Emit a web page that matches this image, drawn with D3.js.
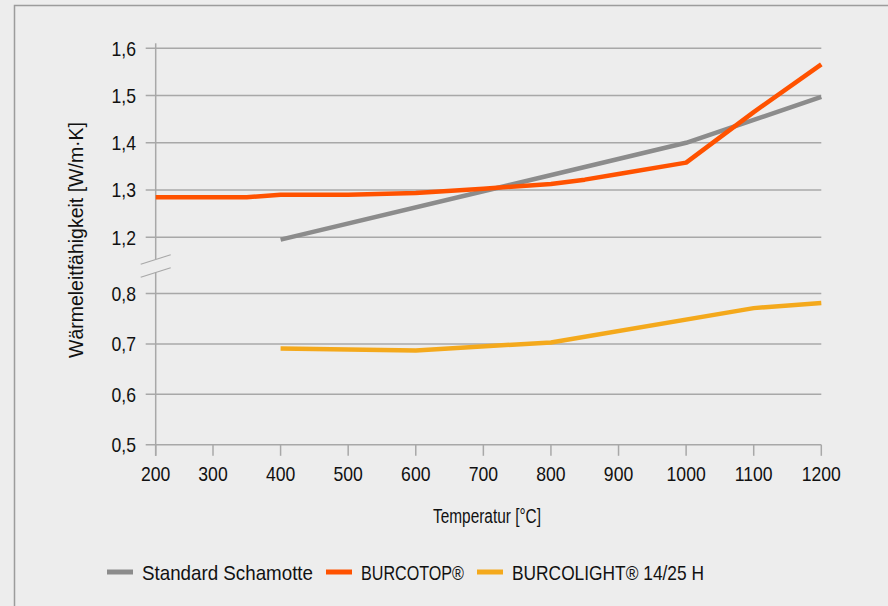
<!DOCTYPE html>
<html>
<head>
<meta charset="utf-8">
<script src="https://cdn.jsdelivr.net/npm/d3@7"></script>
<style>
    html, body { margin: 0; padding: 0; background: #ededed; }
    svg { display: block; }
    text {
        font-family: "Liberation Sans", Arial, sans-serif;
        fill: #111;
    }
</style>
</head>
<body>
<div id="chart"></div>
<script>
// temperatures (°C) and thermal conductivity (W/m·K)
const schamotteTemp = [400, 1000, 1200];
const schamotteVal  = [1.195, 1.4, 1.497];

const burcotopTemp = [200, 350, 400, 500, 600, 700, 800, 850, 900, 1000, 1100, 1200];
const burcotopVal  = [1.285, 1.285, 1.29, 1.29, 1.294, 1.303, 1.313, 1.322, 1.334, 1.358, 1.465, 1.566];

const burcolightTemp = [400, 600, 800, 1100, 1200];
const burcolightVal  = [0.691, 0.687, 0.703, 0.771, 0.781];

const xTicks = [200, 300, 400, 500, 600, 700, 800, 900, 1000, 1100, 1200];
const yTicksUpper = [1.2, 1.3, 1.4, 1.5, 1.6];
const yTicksLower = [0.5, 0.6, 0.7, 0.8];

const seriesNames = ["Standard Schamotte", "BURCOTOP®", "BURCOLIGHT® 14/25 H"];
const seriesColors = ["#8c8c8c", "#ff5200", "#f4a91c"];

class BrokenAxisChart{
    constructor(parent){
        this.parent = d3.select(parent);
        this.w = 888;
        this.h = 606;
        this.init();
    }

    init(){
        this.svg = this.parent.append("svg")
            .attr("width", this.w)
            .attr("height", this.h);

        // panel border (left + top only visible)
        this.svg.append("path")
            .attr("d", `M14.5,${this.h} V5.5 H${this.w}`)
            .attr("fill", "none")
            .attr("stroke", "#9c9c9c")
            .attr("stroke-width", 1.5);

        this.prepScales();
        this.renderAxes();
        this.renderLines();
        this.renderLegend();
    }

    prepScales(){
        // first interval (200-300) is narrower in the original
        this.x = d3.scaleLinear().domain([200, 300, 1200]).range([155.7, 213, 821.3]);
        this.yUp = d3.scaleLinear().domain([1.2, 1.6]).range([237.3, 48.3]);
        this.yLow = d3.scaleLinear().domain([0.5, 0.8]).range([444.8, 293.5]);
    }

    renderAxes(){
        const grid = "#a8a8a8";
        const x0 = this.x(200), x1 = this.x(1200);
        const fmt = d => d3.format(".1f")(d).replace(".", ",");

        const g = this.svg.append("g");

        // horizontal gridlines with left ticks
        const allY = yTicksUpper.map(d => [d, this.yUp(d)]).concat(yTicksLower.map(d => [d, this.yLow(d)]));
        g.selectAll("line.grid")
            .data(allY)
            .enter()
            .append("line")
                .attr("x1", x0 - 10)
                .attr("x2", x1)
                .attr("y1", d => d[1])
                .attr("y2", d => d[1])
                .attr("stroke", grid)
                .attr("stroke-width", 1.5);

        g.selectAll("text.ylab")
            .data(allY)
            .enter()
            .append("text")
                .attr("transform", d => `translate(136,${d[1]}) scale(0.88,1)`)
                .attr("dy", "0.36em")
                .attr("text-anchor", "end")
                .style("font-size", "20px")
                .text(d => fmt(d[0]));

        // vertical axis, broken
        const breakTop = 259, breakBot = 272;
        g.append("line")
            .attr("x1", x0).attr("x2", x0)
            .attr("y1", this.yUp(1.6) - 5).attr("y2", breakTop)
            .attr("stroke", grid).attr("stroke-width", 1.5);
        g.append("line")
            .attr("x1", x0).attr("x2", x0)
            .attr("y1", breakBot).attr("y2", this.yLow(0.5) + 11)
            .attr("stroke", grid).attr("stroke-width", 1.5);

        // break marks
        [0, 13].forEach(off => {
            g.append("line")
                .attr("x1", x0 - 15).attr("y1", 264.3 + off)
                .attr("x2", x0 + 15).attr("y2", 254.8 + off)
                .attr("stroke", grid).attr("stroke-width", 1.2);
        });

        // x ticks
        g.selectAll("line.xtick")
            .data(xTicks)
            .enter()
            .append("line")
                .attr("x1", d => this.x(d))
                .attr("x2", d => this.x(d))
                .attr("y1", this.yLow(0.5))
                .attr("y2", this.yLow(0.5) + 11)
                .attr("stroke", grid)
                .attr("stroke-width", 1.5);

        g.selectAll("text.xlab")
            .data(xTicks)
            .enter()
            .append("text")
                .attr("transform", d => `translate(${this.x(d)},481) scale(0.88,1)`)
                .attr("text-anchor", "middle")
                .style("font-size", "20px")
                .text(d => d);

        g.append("text")
            .attr("x", 433)
            .attr("y", 523)
            .attr("textLength", 108)
            .attr("lengthAdjust", "spacingAndGlyphs")
            .style("font-size", "20px")
            .text("Temperatur [°C]");

        g.append("text")
            .attr("transform", "translate(83,358) rotate(-90)")
            .attr("textLength", 236)
            .attr("lengthAdjust", "spacingAndGlyphs")
            .style("font-size", "20px")
            .text("Wärmeleitfähigkeit [W/m·K]");
    }

    renderLines(){
        const up = d3.line().x(d => this.x(d[0])).y(d => this.yUp(d[1]));
        const low = d3.line().x(d => this.x(d[0])).y(d => this.yLow(d[1]));

        const series = [
            { pts: d3.zip(schamotteTemp, schamotteVal), line: up, color: seriesColors[0] },
            { pts: d3.zip(burcotopTemp, burcotopVal), line: up, color: seriesColors[1] },
            { pts: d3.zip(burcolightTemp, burcolightVal), line: low, color: seriesColors[2] }
        ];

        this.svg.append("g").selectAll("path")
            .data(series)
            .enter()
            .append("path")
                .attr("d", d => d.line(d.pts))
                .attr("fill", "none")
                .attr("stroke", d => d.color)
                .attr("stroke-width", 4.5)
                .attr("stroke-linejoin", "round");
    }

    renderLegend(){
        const starts = [107, 326, 477];
        const widths = [171, 103, 192];
        const lg = this.svg.append("g");
        seriesNames.forEach((name, i) => {
            lg.append("line")
                .attr("x1", starts[i]).attr("x2", starts[i] + 26)
                .attr("y1", 572).attr("y2", 572)
                .attr("stroke", seriesColors[i])
                .attr("stroke-width", 5);
            lg.append("text")
                .attr("x", starts[i] + 35)
                .attr("y", 572)
                .attr("dy", "0.36em")
                .attr("textLength", widths[i])
                .attr("lengthAdjust", "spacingAndGlyphs")
                .style("font-size", "21px")
                .text(name);
        });
    }
}

new BrokenAxisChart(document.getElementById("chart"));
</script>
</body>
</html>
